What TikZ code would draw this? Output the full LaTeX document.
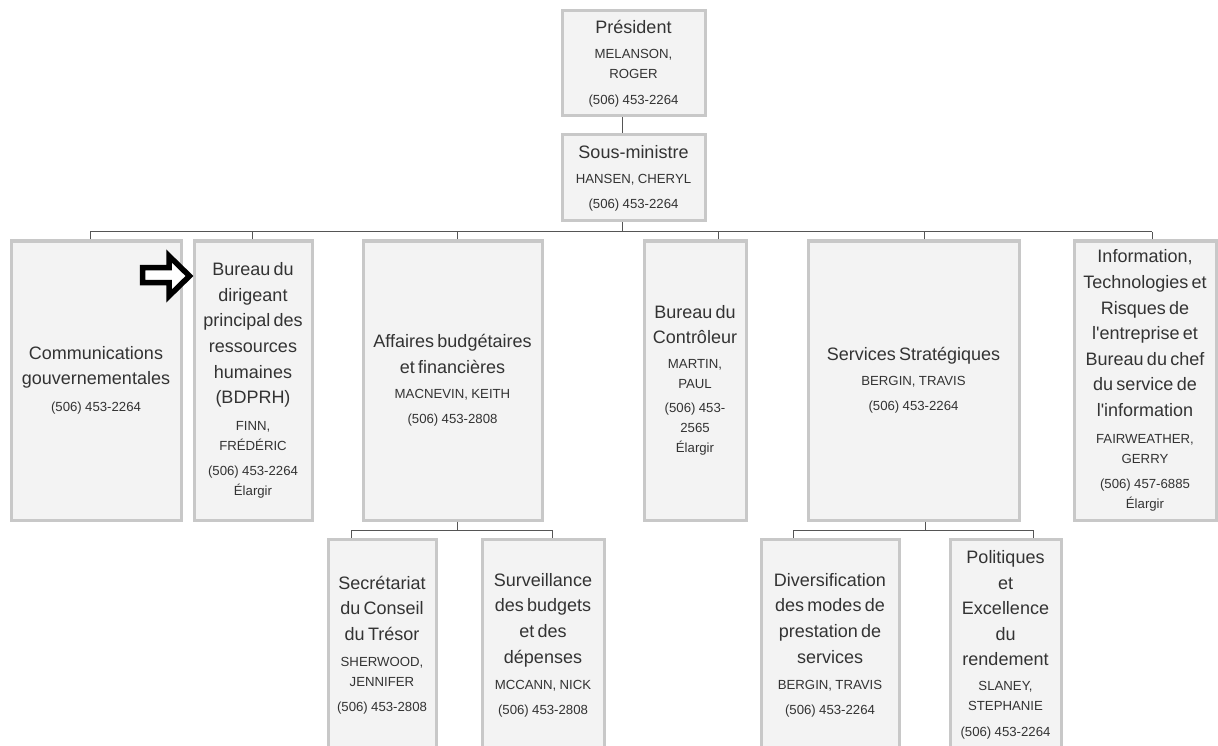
\documentclass[tikz,border=0pt]{standalone}
\usepackage{fontspec}
\setmainfont{Liberation Sans}
\usepackage{xcolor}
\usepackage{tikz}
\usetikzlibrary{calc}
\definecolor{ink}{HTML}{333333}
\definecolor{wire}{HTML}{555555}
\definecolor{edge}{HTML}{C8C8C8}
\definecolor{pane}{HTML}{F3F3F3}
\newcommand\ttl{\fontsize{18}{25.6}\selectfont}
\newcommand\sml{\fontsize{13.2}{20}\selectfont}
\newcommand\apos{\textquotesingle}
\tikzset{
  unit/.style={draw=edge, fill=pane, line width=3pt, inner sep=0pt, align=center, text=ink},
  dims/.style 2 args={minimum width=#1pt, minimum height=#2pt, text width=#1pt},
  link/.style={draw=wire, line width=1pt},
  pointer/.style={draw=black, fill=white, line width=5.5pt, line join=miter},
}

\begin{document}
\begin{tikzpicture}[x=1pt,y=-1pt]
  \useasboundingbox (0,0) rectangle (1218,746);
  \clip (0,0) rectangle (1218,746);
  \fill[white] (0,0) rectangle (1218,746);
  % top of the chart
  \node[unit, dims={143}{105}] (pres) at (633.5,63.5)
    {{\ttl Président\par}\vspace{5pt}{\sml MELANSON,\\ROGER\par}\vspace{6pt}{\sml (506) 453-2264\par}};
  \node[unit, dims={143}{86}] (sous) at (633.5,178)
    {{\ttl Sous-ministre\par}\vspace{5pt}{\sml HANSEN, CHERYL\par}\vspace{5pt}{\sml (506) 453-2264\par}};
  % second row
  \node[unit, dims={170}{279}] (comm) at (96,380.5)
    {{\ttl Communications\\gouvernementales\par}\vspace{7pt}{\sml (506) 453-2264\par}};
  \node[unit, dims={118}{279}] (bdprh) at (253,380.5)
    {{\ttl Bureau du\\dirigeant\\principal des\\ressources\\humaines\\(BDPRH)\par}\vspace{7pt}{\sml FINN,\\FRÉDÉRIC\par}\vspace{5pt}{\sml (506) 453-2264\\Élargir\par}};
  \node[unit, dims={179}{279}] (abf) at (452.5,380.5)
    {{\ttl Affaires budgétaires\\et financières\par}\vspace{5pt}{\sml MACNEVIN, KEITH\par}\vspace{5pt}{\sml (506) 453-2808\par}};
  \node[unit, dims={102}{279}] (ctrl) at (695,380.5)
    {{\ttl Bureau du\\Contrôleur\par}\vspace{5pt}{\sml MARTIN,\\PAUL\par}\vspace{4pt}{\sml (506) 453-\\2565\\Élargir\par}};
  \node[unit, dims={211}{279}] (sstr) at (913.5,380.5)
    {{\ttl Services Stratégiques\par}\vspace{5pt}{\sml BERGIN, TRAVIS\par}\vspace{5pt}{\sml (506) 453-2264\par}};
  \node[unit, dims={142}{279}] (itre) at (1145,380.5)
    {{\ttl Information,\\Technologies et\\Risques de\\l\apos entreprise et\\Bureau du chef\\du service de\\l\apos information\par}\vspace{7pt}{\sml FAIRWEATHER,\\GERRY\par}\vspace{5pt}{\sml (506) 457-6885\\Élargir\par}};
  % third row
  \node[unit, dims={108}{212}] (sct) at (382,645)
    {{\ttl Secrétariat\\du Conseil\\du Trésor\par}\vspace{6pt}{\sml SHERWOOD,\\JENNIFER\par}\vspace{5pt}{\sml (506) 453-2808\par}};
  \node[unit, dims={122}{212}] (surv) at (543,645)
    {{\ttl Surveillance\\des budgets\\et des\\dépenses\par}\vspace{6pt}{\sml MCCANN, NICK\par}\vspace{5pt}{\sml (506) 453-2808\par}};
  \node[unit, dims={138}{212}] (divs) at (830,645)
    {{\ttl Diversification\\des modes de\\prestation de\\services\par}\vspace{6pt}{\sml BERGIN, TRAVIS\par}\vspace{5pt}{\sml (506) 453-2264\par}};
  \node[unit, dims={111}{212}] (polx) at (1005.5,645)
    {{\ttl Politiques\\et\\Excellence\\du\\rendement\par}\vspace{5pt}{\sml SLANEY,\\STEPHANIE\par}\vspace{6pt}{\sml (506) 453-2264\par}};
  % connectors
  \coordinate (bus) at (0,232);
  \coordinate (busA) at (0,530);
  \draw[link] ([xshift=-11.5pt]pres.south) -- ([xshift=-11.5pt]sous.north);
  \draw[link] ([xshift=-11.5pt]sous.south) -- ([xshift=-11.5pt]sous.south |- bus);
  \draw[link] ([xshift=-6pt]comm.north |- bus) -- ([xshift=7pt]itre.north |- bus);
  \foreach \n/\dx in {comm/-6, bdprh/-1, abf/4.5, ctrl/23, sstr/10.5, itre/7}
    \draw[link] ([xshift=\dx pt]\n.north) -- ([xshift=\dx pt]\n.north |- bus);
  \draw[link] ([xshift=4.5pt]abf.south) -- ([xshift=4.5pt]abf.south |- busA);
  \draw[link] ([xshift=11.5pt]sstr.south) -- ([xshift=11.5pt]sstr.south |- busA);
  \draw[link] ([xshift=-31pt]sct.north |- busA) -- ([xshift=9pt]surv.north |- busA);
  \draw[link] ([xshift=-37pt]divs.north |- busA) -- ([xshift=27.5pt]polx.north |- busA);
  \foreach \n/\dx in {sct/-31, surv/9, divs/-37, polx/27.5}
    \draw[link] ([xshift=\dx pt]\n.north) -- ([xshift=\dx pt]\n.north |- busA);
  % the pointer
  \draw[pointer] (142.5,267.5) -- (169,267.5) -- (169,256) -- (189.5,276) -- (169,296) -- (169,282.5) -- (142.5,282.5) -- cycle;
\end{tikzpicture}
\end{document}
